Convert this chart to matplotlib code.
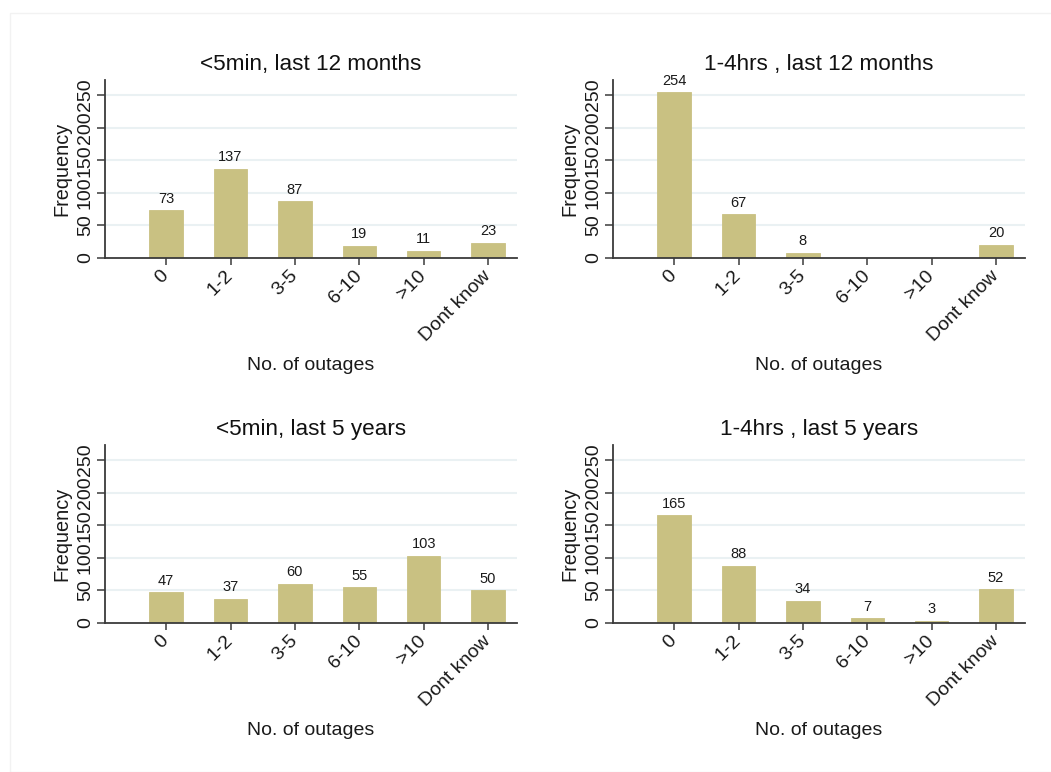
import numpy as np
import matplotlib.pyplot as plt
from matplotlib.patches import Rectangle

plt.rcParams['font.family'] = ['Liberation Sans', 'DejaVu Sans']

categories = ['0', '1-2', '3-5', '6-10', '>10', 'Dont know']
yticks = [0, 50, 100, 150, 200, 250]

short_12m = [73, 137, 87, 19, 11, 23]
long_12m = [254, 67, 8, np.nan, np.nan, 20]
short_5y = [47, 37, 60, 55, 103, 50]
long_5y = [165, 88, 34, 7, 3, 52]

panels = [
    ('<5min, last 12 months', short_12m),
    ('1-4hrs , last 12 months', long_12m),
    ('<5min, last 5 years', short_5y),
    ('1-4hrs , last 5 years', long_5y),
]

W, H = 1051, 772
fig = plt.figure(figsize=(W / 100, H / 100), dpi=100)
fig.patch.set_facecolor('white')

# faint outer frame
fig.patches.append(Rectangle((10 / W, 0), 1.2, 1 - 13 / H, transform=fig.transFigure,
                             fill=False, edgecolor='#f2f2f2', linewidth=1.0))

# axes boxes in pixels: left, top, right, bottom
boxes = [(105, 80, 517, 258), (613, 80, 1025, 258),
         (105, 445, 517, 623), (613, 445, 1025, 623)]

bar_color = '#c9c182'
axis_color = '#3a3a3a'
x = np.arange(len(categories))

for (title, vals), (l, t, r, b) in zip(panels, boxes):
    ax = fig.add_axes([l / W, 1 - b / H, (r - l) / W, (b - t) / H])
    vals = np.array(vals, dtype=float)
    ax.bar(x, np.nan_to_num(vals), width=0.52, color=bar_color, zorder=2,
           edgecolor=bar_color, linewidth=0.6)
    for xi, v in zip(x, vals):
        if np.isnan(v):
            continue
        ax.text(xi, v + 7, f'{int(v)}', ha='center', va='bottom',
                fontsize=10.5, color='#1a1a1a')
    ax.set_xlim(-0.95, 5.45)
    ax.set_ylim(0, 273)
    ax.set_yticks(yticks)
    ax.set_yticklabels([str(v) for v in yticks], rotation=90, va='center',
                       fontsize=14, color='#1a1a1a')
    for v in yticks[1:]:
        ax.axhline(v, color='#eaf1f3', linewidth=1.5, zorder=1)
    ax.set_xticks(x)
    ax.set_xticklabels(categories, rotation=45, ha='right', va='center',
                       rotation_mode='anchor', fontsize=14, color='#1a1a1a')
    ax.tick_params(axis='x', length=5, width=1.1, color=axis_color, pad=6)
    ax.tick_params(axis='y', length=6, width=1.1, color=axis_color, pad=2)
    for s in ['top', 'right']:
        ax.spines[s].set_visible(False)
    for s in ['left', 'bottom']:
        ax.spines[s].set_color(axis_color)
        ax.spines[s].set_linewidth(1.3)
    ax.set_title(title, fontsize=16.2, color='#111111', pad=7)
    ax.set_ylabel('Frequency', fontsize=14.3, color='#1a1a1a', va='center')
    ax.yaxis.set_label_coords(-43 / (r - l), 0.5)
    ax.set_xlabel('No. of outages', fontsize=14, color='#1a1a1a', labelpad=9)
    ax.set_facecolor('white')

fig.savefig('out.png', dpi=100)
